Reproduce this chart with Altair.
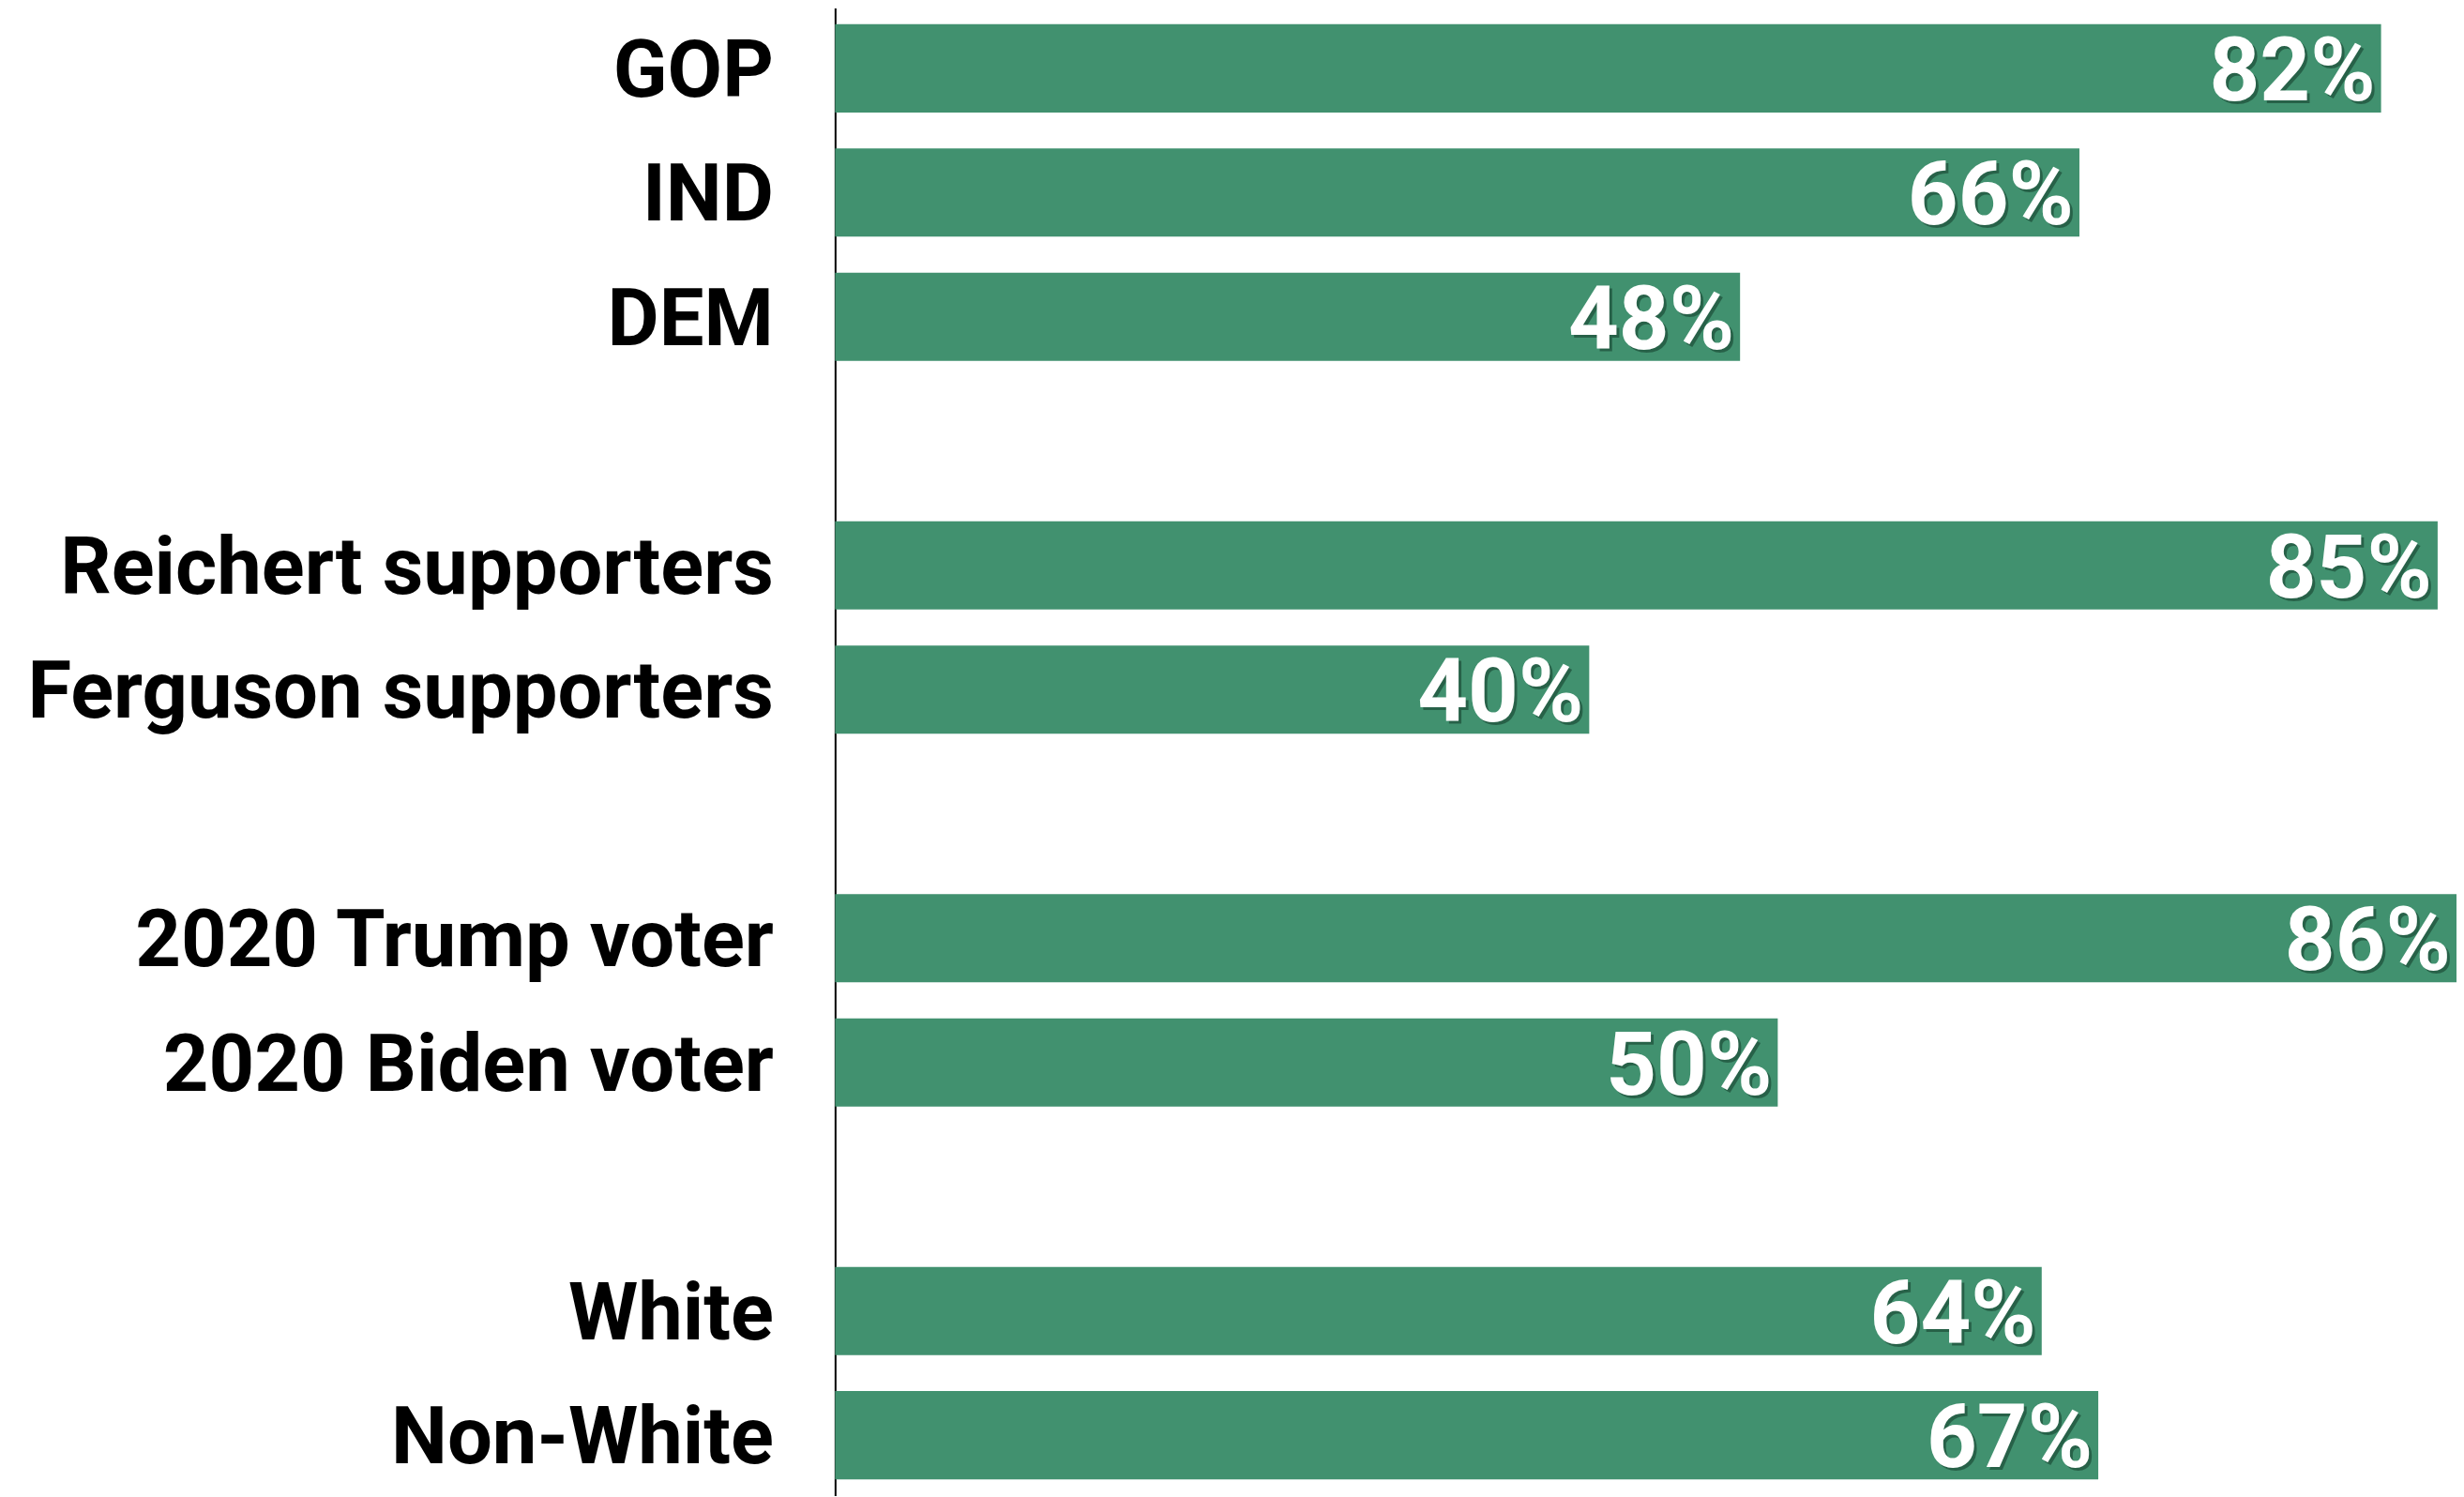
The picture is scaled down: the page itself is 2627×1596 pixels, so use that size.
import altair as alt
import pandas as pd

categories = ["GOP", "IND", "DEM", "Reichert supporters", "Ferguson supporters",
              "2020 Trump voter", "2020 Biden voter", "White", "Non-White"]
values = [82, 66, 48, 85, 40, 86, 50, 64, 67]
row_order = ["GOP", "IND", "DEM", " ", "Reichert supporters", "Ferguson supporters", "  ",
             "2020 Trump voter", "2020 Biden voter", "   ", "White", "Non-White"]

df = pd.DataFrame({"group": categories, "value": values})

FONT = "Roboto"
GREEN = "#41916f"

base = alt.Chart(df).transform_calculate(
    label="datum.value + '%'"
).encode(
    y=alt.Y(
        "group:N",
        title=None,
        scale=alt.Scale(domain=row_order, paddingInner=0.29, paddingOuter=0.13),
        axis=alt.Axis(
            domain=True, domainColor="black", domainWidth=2,
            ticks=False, tickSize=0, grid=False,
            labelPadding=66, labelFontSize=85, labelFont=FONT, labelOffset=4,
            labelFontWeight="bold", labelColor="black", labelLimit=2000,
        ),
    )
)

xenc = alt.X("value:Q", scale=alt.Scale(domain=[0, 86], nice=False, zero=True), axis=None)

bars = base.mark_bar(color=GREEN).encode(x=xenc)

shadow = base.mark_text(
    align="right", baseline="middle", dx=-3, dy=9, fontSize=94, font=FONT,
    fontWeight="bold", color="#0f3323", opacity=0.5
).encode(x=xenc, text="label:N")

text = base.mark_text(
    align="right", baseline="middle", dx=-6, dy=6, fontSize=94, font=FONT,
    fontWeight="bold", color="white"
).encode(x=xenc, text="label:N")

chart = alt.layer(bars, shadow, text).properties(
    width=1730, height=1587,
    autosize=alt.AutoSizeParams(type="none"),
    padding={"left": 883, "top": 0, "right": 0, "bottom": 0},
).configure_view(stroke=None)

chart.save("out.html", embed_options={"renderer": "svg", "actions": False})
